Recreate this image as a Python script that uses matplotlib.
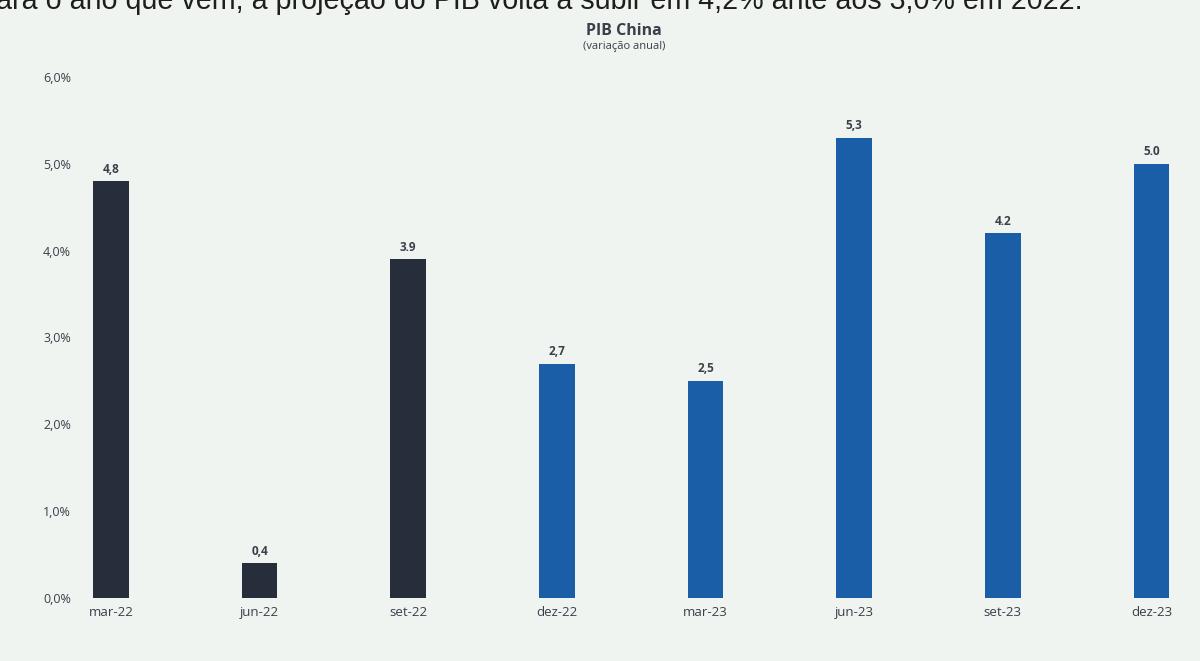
import matplotlib
matplotlib.use("Agg")
import matplotlib.pyplot as plt
import numpy as np

# PIB China, variacao anual por trimestre
quarters = ["mar-22", "jun-22", "set-22", "dez-22", "mar-23", "jun-23", "set-23", "dez-23"]
gdp_growth = [4.8, 0.4, 3.9, 2.7, 2.5, 5.3, 4.2, 5.0]
value_labels = ["4,8", "0,4", "3.9", "2,7", "2,5", "5,3", "4.2", "5.0"]
is_projection = [False, False, False, True, True, True, True, True]
y_ticks = [0, 1, 2, 3, 4, 5, 6]

DARK = "#272e3b"
BLUE = "#1b5ea8"
BG = "#eff4f0"
TEXT = "#3a3f4a"

plt.rcParams["font.family"] = ["Open Sans", "DejaVu Sans"]

fig = plt.figure(figsize=(12, 6.61), dpi=100, facecolor=BG)
ax = fig.add_axes([85 / 1200, 1 - 598 / 661, 1105 / 1200, (598 - 77) / 661])
ax.set_facecolor(BG)

x = np.arange(len(quarters))
colors = [BLUE if p else DARK for p in is_projection]
bars = ax.bar(x, gdp_growth, width=0.24, color=colors)

for rect, lbl in zip(bars, value_labels):
    ax.annotate(lbl, (rect.get_x() + rect.get_width() / 2, rect.get_height()),
                xytext=(0, 4), textcoords="offset points",
                ha="center", va="bottom", fontsize=8.5,
                fontweight="bold", color=TEXT)

ax.set_xlim(-0.175, 7.26)
ax.set_ylim(0, 6)
ax.set_yticks(y_ticks)
ax.set_yticklabels(["{:.1f}%".format(v).replace(".", ",") for v in y_ticks],
                   fontsize=9, color=TEXT)
ax.set_xticks(x)
ax.set_xticklabels(quarters, fontsize=9.5, color=TEXT)
ax.tick_params(length=0, pad=6)
ax.tick_params(axis="y", pad=10)
for s in ax.spines.values():
    s.set_visible(False)

fig.text(0.52, 1 - 31 / 661, "PIB China", ha="center", va="center",
         fontsize=11.5, fontweight="bold", color=TEXT)
fig.text(0.52, 1 - 46 / 661, "(variação anual)", ha="center", va="center",
         fontsize=8, color=TEXT)

# sentence from the surrounding page, cut off at the top edge
fig.text(-0.003, 1 - 9 / 661,
         "ara o ano que vem, a projeção do PIB volta a subir em 4,2% ante aos 3,0% em 2022.",
         ha="left", va="baseline", fontsize=20.6, color="#1e1e1e",
         family=["Liberation Sans", "DejaVu Sans"])

fig.savefig("out.png", dpi=100, facecolor=BG)
